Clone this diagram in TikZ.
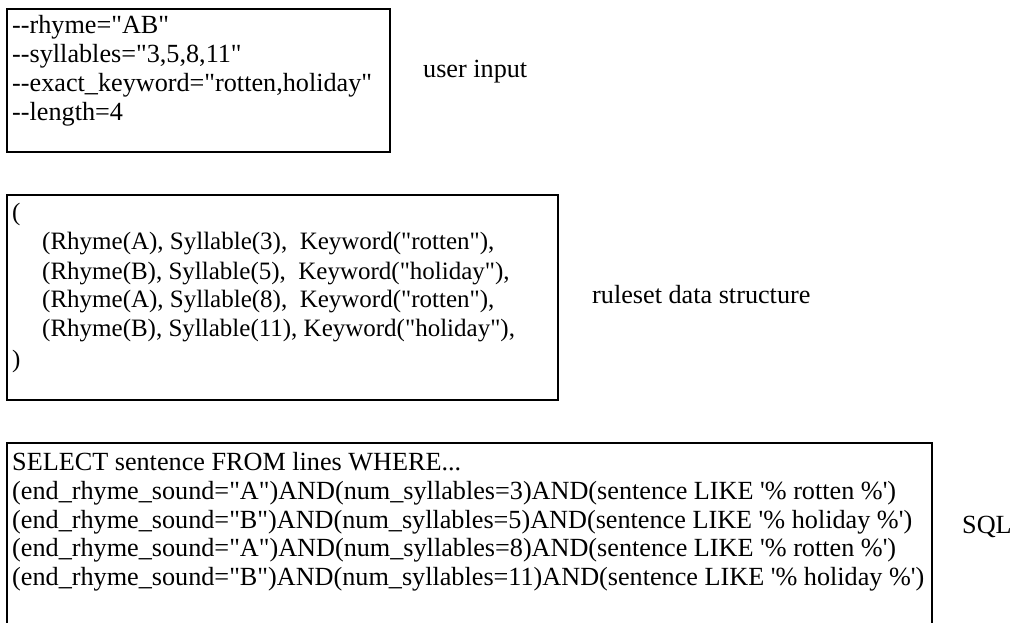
\documentclass[tikz,border=0pt]{standalone}
\usepackage{fontspec}
\setmainfont{Liberation Serif}[Ligatures=TeXOff]
\begin{document}
\begin{tikzpicture}[x=1pt,y=-1pt,
  box/.style={draw=black, line width=2.5pt, inner sep=0pt, outer sep=0pt, anchor=north west},
  txt/.style={inner sep=0pt, anchor=base west, font=\fontsize{26.2}{29}\selectfont},
  rtxt/.style={inner sep=0pt, anchor=base west, font=\fontsize{25}{29}\selectfont}]
\useasboundingbox (0,0) rectangle (1013,623);
\clip (0,0) rectangle (1013,623);
% boxes
\node[box, minimum width=383pt, minimum height=143pt] (b1) at (7,9) {};
\node[box, minimum width=551pt, minimum height=205pt] (b2) at (7,195) {};
\node[box, minimum width=925pt, minimum height=210pt] (b3) at (7,443) {};
% box 1 text
\node[txt] (u1) at (12,34) {--rhyme="AB"};
\node[txt] (u2) at (12,63) {--syllables="3,5,8,11"};
\node[txt] (u3) at (12,92) {--exact\_keyword="rotten,holiday"};
\node[txt] (u4) at (12,121) {--length=4};
% box 2 text
\node[rtxt] (r0) at (12,221) {(};
\node[rtxt] (r1) at (42,250) {(Rhyme(A), Syllable(3),\ \ Keyword("rotten"),};
\node[rtxt] (r2) at (42,279) {(Rhyme(B), Syllable(5),\ \ Keyword("holiday"),};
\node[rtxt] (r3) at (42,307) {(Rhyme(A), Syllable(8),\ \ Keyword("rotten"),};
\node[rtxt] (r4) at (42,336) {(Rhyme(B), Syllable(11), Keyword("holiday"),};
\node[rtxt] (r5) at (12,367) {)};
% box 3 text
\node[txt] (s0) at (12,470) {SELECT sentence FROM lines WHERE...};
\node[txt] (s1) at (12,499) {(end\_rhyme\_sound="A")AND(num\_syllables=3)AND(sentence LIKE '\% rotten \%')};
\node[txt] (s2) at (12,528) {(end\_rhyme\_sound="B")AND(num\_syllables=5)AND(sentence LIKE '\% holiday \%')};
\node[txt] (s3) at (12,556) {(end\_rhyme\_sound="A")AND(num\_syllables=8)AND(sentence LIKE '\% rotten \%')};
\node[txt] (s4) at (12,585) {(end\_rhyme\_sound="B")AND(num\_syllables=11)AND(sentence LIKE '\% holiday \%')};
% labels
\node[txt] (l1) at (423,78) {user input};
\node[txt] (l2) at (592,303) {ruleset data structure};
\node[txt] (l3) at (962,533) {SQL};
\end{tikzpicture}
\end{document}
